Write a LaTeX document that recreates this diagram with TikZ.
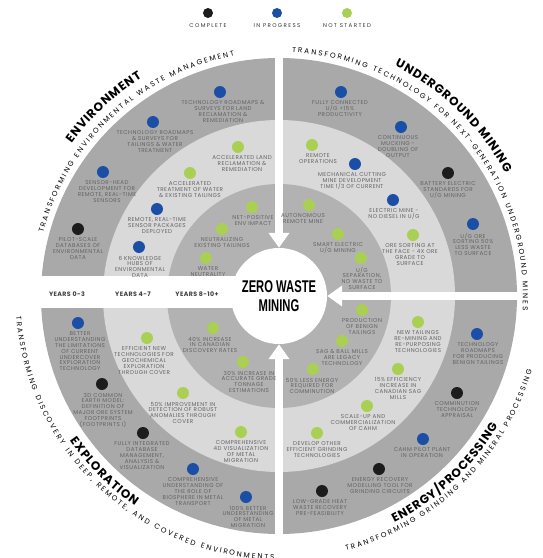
\documentclass[tikz,border=0pt]{standalone}
\usepackage{fontspec}
\usepackage{graphicx}
\usepackage{tikz}
\usetikzlibrary{positioning}
\usetikzlibrary{arrows.meta, decorations.text}

\newfontfamily\wheelfont{Poppins}
\newfontfamily\zwmfont{Liberation Sans}

\definecolor{donecol}{HTML}{1C1C1C}
\definecolor{progcol}{HTML}{1B4FA6}
\definecolor{todocol}{HTML}{A9D052}
\definecolor{ringout}{HTML}{A9A9A9}
\definecolor{ringmid}{HTML}{D9D9D9}
\definecolor{ringin}{HTML}{B2B2B2}
\definecolor{itemgray}{HTML}{636363}

\newcommand{\titlefmt}{\wheelfont\bfseries\fontsize{12}{12}\selectfont\kern0.9pt}
\newcommand{\subfmt}{\wheelfont\fontsize{7.2}{7.2}\selectfont\kern2pt}

\tikzstyle{statusdot} = [circle, minimum size=12pt, inner sep=0pt]
\tikzstyle{itemtext} = [font=\wheelfont\addfontfeature{LetterSpace=8}\fontsize{5.6}{5.8}\selectfont, text=itemgray, align=center, inner sep=0pt]
\tikzstyle{legendtext} = [font=\wheelfont\addfontfeature{LetterSpace=25}\fontsize{5.5}{6}\selectfont, text=black!80, inner sep=0pt]
\tikzstyle{yeartext} = [font=\wheelfont\bfseries\addfontfeature{LetterSpace=6}\fontsize{6.3}{7}\selectfont, text=black!75, inner sep=0pt]
\tikzstyle{flow} = [line width=8pt, white, -{Triangle[width=20pt,length=15pt]}]
\tikzstyle{ringtitle} = [decorate, decoration={text along path, text align=center}]

\begin{document}
\begin{tikzpicture}[x=1pt, y=1pt]
\useasboundingbox (-279,-262) rectangle (264,296);

%Rings
\fill[ringout] (0,0) circle (238);
\fill[ringmid] (0,0) circle (176);
\fill[ringin] (0,0) circle (112);
\fill[white] (-244,-12) rectangle (-40,20);

%Centre
\node[circle, fill=white, minimum size=96pt, inner sep=0pt, align=center,
      font=\zwmfont\bfseries\fontsize{17}{18.5}\selectfont] (zwm) at (0,0)
      {\scalebox{0.66}[1]{ZERO WASTE}\\\scalebox{0.66}[1]{MINING}};

%Arrows
\coordinate (topin) at (0,244);
\coordinate (rightin) at (244,0);
\coordinate (botin) at (0,-244);
\draw[flow] (topin) -- (zwm);
\draw[flow] (rightin) -- (zwm);
\draw[flow] (botin) -- (zwm);

%Legend
\node[statusdot, fill=donecol, minimum size=10pt] (legdone) at (-71,283) {};
\node[statusdot, fill=progcol, minimum size=10pt] (legprog) at (-2,283) {};
\node[statusdot, fill=todocol, minimum size=10pt] (legtodo) at (68,283) {};
\node[legendtext, below=5pt of legdone] (legdone-t) {COMPLETE};
\node[legendtext, below=5pt of legprog] (legprog-t) {IN PROGRESS};
\node[legendtext, below=5pt of legtodo] (legtodo-t) {NOT STARTED};

%Years
\node[yeartext] (yr03) at (-212,2) {YEARS 0-3};
\node[yeartext] (yr47) at (-146,2) {YEARS 4-7};
\node[yeartext] (yr810) at (-82,2) {YEARS 8-10+};

%Quadrant titles
\path[ringtitle, decoration={text={|\titlefmt|ENVIRONMENT}}] (168:257.5) arc[start angle=168, end angle=98, radius=257.5pt];
\path[ringtitle, decoration={text={|\subfmt|TRANSFORMING ENVIRONMENTAL WASTE MANAGEMENT}}] (180:244) arc[start angle=180, end angle=86, radius=244pt];
\path[ringtitle, decoration={text={|\titlefmt|UNDERGROUND MINING}}] (86:257.5) arc[start angle=86, end angle=6, radius=257.5pt];
\path[ringtitle, decoration={text={|\subfmt|TRANSFORMING TECHNOLOGY FOR NEXT-GENERATION UNDERGROUND MINES}}] (100:244) arc[start angle=100, end angle=-16, radius=244pt];
\path[ringtitle, decoration={text={|\titlefmt|EXPLORATION}}] (190:254.5) arc[start angle=190, end angle=260, radius=254.5pt];
\path[ringtitle, decoration={text={|\subfmt|TRANSFORMING DISCOVERY IN DEEP, REMOTE, AND COVERED ENVIRONMENTS}}] (168:263.5) arc[start angle=168, end angle=285, radius=263.5pt];
\path[ringtitle, decoration={text={|\titlefmt|ENERGY/PROCESSING}}] (278:254.5) arc[start angle=278, end angle=348, radius=254.5pt];
\path[ringtitle, decoration={text={|\subfmt|TRANSFORMING GRINDING AND MINERAL PROCESSING}}] (264:263.5) arc[start angle=264, end angle=364, radius=263.5pt];

%Nodes
\foreach \nm/\x/\y/\st/\dx/\txt in {
  envA/-59/204/progcol/3/{TECHNOLOGY ROADMAPS \&\\SURVEYS FOR LAND\\RECLAMATION \&\\REMEDIATION},
  envB/-126/174/progcol/2/{TECHNOLOGY ROADMAPS\\\& SURVEYS FOR\\TAILINGS \& WATER\\TREATMENT},
  envC/-176/124/progcol/4/{SENSOR-HEAD\\DEVELOPMENT FOR\\REMOTE, REAL-TIME\\SENSORS},
  envD/-201/67/donecol/0/{PILOT-SCALE\\DATABASES OF\\ENVIRONMENTAL\\DATA},
  envE/-41/149/todocol/4/{ACCELERATED LAND\\RECLAMATION \&\\REMEDIATION},
  envF/-89/123/todocol/0/{ACCELERATED\\TREATMENT OF WATER\\\& EXISTING TAILINGS},
  envG/-122/87/progcol/0/{REMOTE, REAL-TIME\\SENSOR PACKAGES\\DEPLOYED},
  envH/-140/49/progcol/1/{6 KNOWLEDGE\\HUBS OF\\ENVIRONMENTAL\\DATA},
  envI/-27/89/todocol/1/{NET-POSITIVE\\ENV IMPACT},
  envJ/-57/67/todocol/0/{NEUTRALIZING\\EXISTING TAILINGS},
  envK/-73/38/todocol/2/{WATER\\NEUTRALITY},
  ugA/62/204/progcol/-1/{FULLY CONNECTED\\U/G +15\%\\PRODUCTIVITY},
  ugB/122/169/progcol/-3/{CONTINUOUS\\MUCKING -\\DOUBLING OF\\OUTPUT},
  ugC/169/123/donecol/0/{BATTERY ELECTRIC\\STANDARDS FOR\\U/G MINING},
  ugD/194/72/progcol/0/{U/G ORE\\SORTING 50\%\\LESS WASTE\\TO SURFACE},
  ugE/33/151/todocol/6/{REMOTE\\OPERATIONS},
  ugF/76/132/progcol/-3/{MECHANICAL CUTTING\\MINE DEVELOPMENT\\TIME 1/3 OF CURRENT},
  ugG/114/96/progcol/1/{ELECTRIC MINE -\\NO DIESEL IN U/G},
  ugH/134/61/todocol/-3/{ORE SORTING AT\\THE FACE - 4X ORE\\GRADE TO\\SURFACE},
  ugI/30/91/todocol/-6/{AUTONOMOUS\\REMOTE MINE},
  ugJ/59/62/todocol/0/{SMART ELECTRIC\\U/G MINING},
  ugK/82/38/todocol/1/{U/G\\SEPARATION,\\NO WASTE TO\\SURFACE},
  exA/-201/-27/progcol/2/{BETTER\\UNDERSTANDING\\THE LIMITATIONS\\OF CURRENT\\UNDERCOVER\\EXPLORATION\\TECHNOLOGY},
  exB/-177/-88/donecol/1/{3D COMMON\\EARTH MODEL:\\DEFINITION OF\\MAJOR ORE SYSTEM\\FOOTPRINTS\\(FOOTPRINTS I)},
  exC/-136/-137/donecol/-1/{FULLY INTEGRATED\\DATABASE\\MANAGEMENT,\\ANALYSIS \&\\VISUALIZATION},
  exD/-86/-173/progcol/0/{COMPREHENSIVE\\UNDERSTANDING OF\\THE ROLE OF\\BIOSPHERE IN METAL\\TRANSPORT},
  exE/-33/-201/progcol/2/{100\% BETTER\\UNDERSTANDING\\OF METAL\\MIGRATION},
  exF/-132/-42/todocol/-3/{EFFICIENT NEW\\TECHNOLOGIES FOR\\GEOCHEMICAL\\EXPLORATION\\THROUGH COVER},
  exG/-96/-97/todocol/0/{50\% IMPROVEMENT IN\\DETECTION OF ROBUST\\ANOMALIES THROUGH\\COVER},
  exH/-38/-136/todocol/0/{COMPREHENSIVE\\4D VISUALIZATION\\OF METAL\\MIGRATION},
  exI/-66/-32/todocol/-3/{40\% INCREASE\\IN CANADIAN\\DISCOVERY RATES},
  exJ/-36/-66/todocol/6/{30\% INCREASE IN\\ACCURATE GRADE\\TONNAGE\\ESTIMATIONS},
  epA/83/-14/todocol/0/{PRODUCTION\\OF BENIGN\\TAILINGS},
  epB/63/-45/todocol/0/{SAG \& BALL MILLS\\ARE LEGACY\\TECHNOLOGY},
  epC/34/-73/todocol/-1/{50\% LESS ENERGY\\REQUIRED FOR\\COMMINUTION},
  epD/139/-26/todocol/0/{NEW TAILINGS\\RE-MINING AND\\RE-PURPOSING\\TECHNOLOGIES},
  epE/119/-73/todocol/0/{15\% EFFICIENCY\\INCREASE IN\\CANADIAN SAG\\MILLS},
  epF/88/-110/todocol/-4/{SCALE-UP AND\\COMMERCIALIZATION\\OF CAHM},
  epG/38/-137/todocol/0/{DEVELOP OTHER\\EFFICIENT GRINDING\\TECHNOLOGIES},
  epH/198/-38/progcol/1/{TECHNOLOGY\\ROADMAPS\\FOR PRODUCING\\BENIGN TAILINGS},
  epI/178/-97/donecol/0/{COMMINUTION\\TECHNOLOGY\\APPRAISAL},
  epJ/144/-143/progcol/-1/{CAHM PILOT PLANT\\IN OPERATION},
  epK/100/-173/donecol/1/{ENERGY RECOVERY\\MODELLING TOOL FOR\\GRINDING CIRCUITS},
  epL/43/-195/donecol/-2/{LOW-GRADE HEAT\\WASTE RECOVERY\\PRE-FEASIBILITY}%
}{
  \node[statusdot, fill=\st] (\nm) at (\x,\y) {};
  \node[itemtext, below=2.5pt of \nm, xshift=\dx pt] (\nm-t) {\txt};
}

\end{tikzpicture}
\end{document}
